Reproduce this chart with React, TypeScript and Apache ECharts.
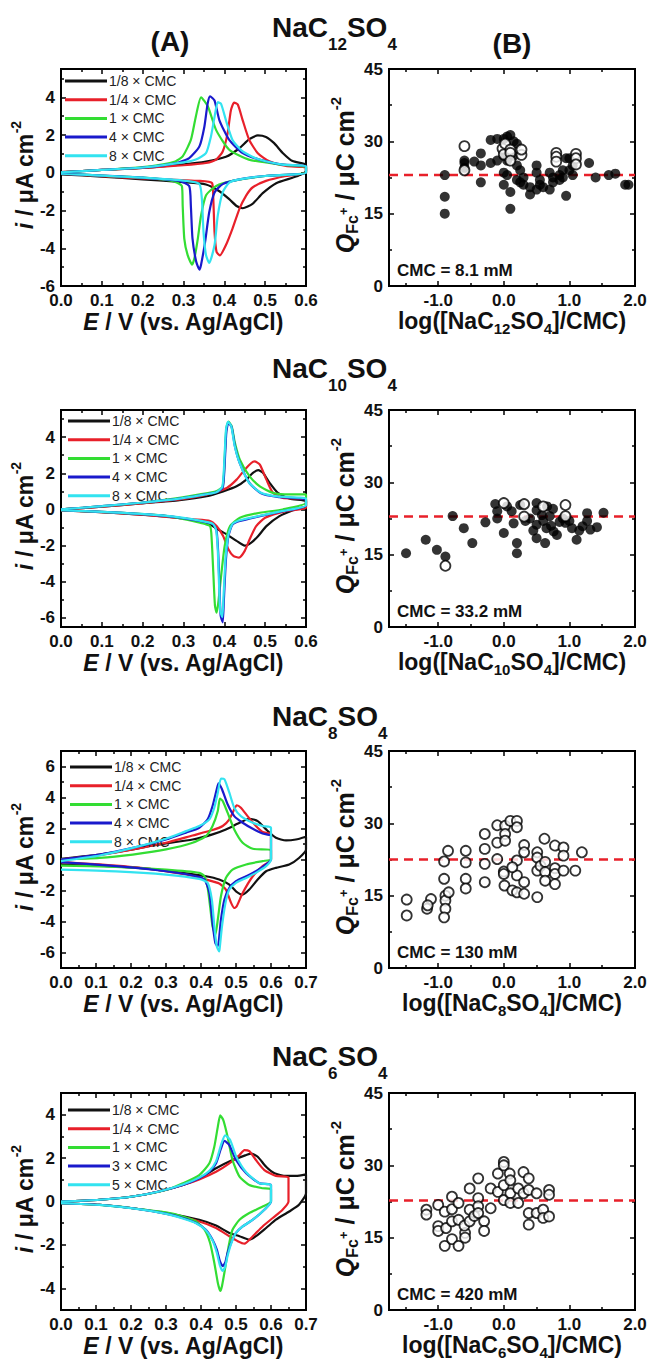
import React, { useEffect, useRef } from 'react';
import * as echarts from 'echarts';

type Pt = [number, number];

const FONT = '"Liberation Sans", Arial, Helvetica, sans-serif';

// ---------- (A) cyclic voltammograms: [E / V, i / µA cm^-2], anodic sweep then cathodic sweep ----------

// NaC12SO4
const cv12_eighth: Pt[] = [
  [0, 0.03], [0.1, 0.15], [0.2, 0.26], [0.3, 0.45], [0.355, 0.6], [0.404, 0.85], [0.437, 1.3], [0.461, 1.78], [0.482, 1.98], [0.502, 1.9], [0.522, 1.57], [0.543, 1.05], [0.567, 0.62], [0.6, 0.43],
  [0.6, 0.1], [0.585, -0.12], [0.567, -0.26], [0.527, -0.55], [0.494, -1.08], [0.469, -1.65], [0.445, -1.88], [0.43, -1.76], [0.412, -1.4], [0.388, -0.98], [0.355, -0.62], [0.3, -0.5], [0.2, -0.35], [0.1, -0.2], [0, -0.08],
];
const cv12_quarter: Pt[] = [
  [0, 0.03], [0.1, 0.15], [0.2, 0.26], [0.3, 0.4], [0.355, 0.52], [0.38, 0.7], [0.396, 1.13], [0.408, 2.09], [0.416, 3.3], [0.424, 3.72], [0.433, 3.62], [0.445, 2.78], [0.461, 1.74], [0.482, 1.04], [0.51, 0.61], [0.551, 0.36], [0.6, 0.27],
  [0.6, 0.0], [0.551, -0.17], [0.502, -0.43], [0.469, -0.78], [0.453, -1.22], [0.437, -1.91], [0.42, -2.96], [0.404, -3.83], [0.389, -4.38], [0.381, -4.2], [0.376, -3.13], [0.373, -1.39], [0.37, -0.55], [0.339, -0.43], [0.2, -0.3], [0.1, -0.18], [0, -0.05],
];
const cv12_one: Pt[] = [
  [0, 0.02], [0.1, 0.15], [0.2, 0.3], [0.25, 0.45], [0.28, 0.6], [0.298, 0.87], [0.318, 1.74], [0.33, 2.96], [0.343, 4.0], [0.36, 3.5], [0.38, 2.26], [0.412, 1.22], [0.46, 0.7], [0.54, 0.43], [0.6, 0.3],
  [0.6, 0], [0.5, -0.17], [0.42, -0.43], [0.38, -0.7], [0.355, -1.2], [0.343, -2.26], [0.335, -3.5], [0.327, -4.5], [0.321, -4.87], [0.31, -4.35], [0.302, -3.5], [0.298, -1.74], [0.296, -0.7], [0.273, -0.43], [0.2, -0.26], [0.1, -0.15], [0, -0.03],
];
const cv12_four: Pt[] = [
  [0, 0.02], [0.1, 0.15], [0.2, 0.28], [0.28, 0.5], [0.314, 0.78], [0.339, 1.4], [0.351, 2.43], [0.359, 3.65], [0.365, 4.05], [0.376, 3.83], [0.388, 2.78], [0.412, 1.74], [0.445, 1.04], [0.486, 0.7], [0.543, 0.43], [0.6, 0.35],
  [0.6, 0], [0.5, -0.17], [0.437, -0.35], [0.396, -0.6], [0.376, -1.04], [0.363, -2.09], [0.353, -3.65], [0.343, -4.87], [0.339, -5.13], [0.331, -4.7], [0.322, -3.48], [0.318, -1.74], [0.314, -0.7], [0.29, -0.43], [0.2, -0.26], [0.1, -0.15], [0, -0.05],
];
const cv12_eight: Pt[] = [
  [0, 0.02], [0.1, 0.15], [0.2, 0.28], [0.3, 0.55], [0.33, 0.7], [0.355, 1.04], [0.367, 1.9], [0.376, 2.96], [0.384, 3.74], [0.392, 3.65], [0.404, 2.78], [0.42, 1.74], [0.445, 1.13], [0.486, 0.7], [0.543, 0.43], [0.6, 0.35],
  [0.6, 0], [0.5, -0.17], [0.437, -0.35], [0.412, -0.52], [0.396, -1.04], [0.384, -2.26], [0.376, -3.83], [0.363, -4.78], [0.355, -4.35], [0.349, -3.13], [0.345, -1.39], [0.339, -0.6], [0.306, -0.43], [0.2, -0.26], [0.1, -0.15], [0, -0.05],
];

// NaC10SO4
const cv10_eighth: Pt[] = [
  [0, 0], [0.1, 0.15], [0.195, 0.33], [0.29, 0.51], [0.357, 0.73], [0.397, 1.0], [0.43, 1.28], [0.454, 1.65], [0.47, 2.02], [0.483, 2.17], [0.495, 2.02], [0.511, 1.47], [0.531, 0.92], [0.56, 0.59], [0.6, 0.46],
  [0.6, 0.18], [0.568, -0.04], [0.535, -0.37], [0.503, -0.92], [0.483, -1.47], [0.466, -1.83], [0.45, -2.0], [0.43, -1.74], [0.406, -1.38], [0.381, -1.06], [0.365, -0.83], [0.34, -0.64], [0.26, -0.4], [0.14, -0.2], [0, -0.05],
];
const cv10_quarter: Pt[] = [
  [0, 0], [0.1, 0.15], [0.195, 0.33], [0.29, 0.55], [0.34, 0.73], [0.373, 0.92], [0.406, 1.19], [0.43, 1.65], [0.45, 2.2], [0.466, 2.57], [0.474, 2.66], [0.487, 2.48], [0.503, 1.65], [0.519, 0.92], [0.543, 0.64], [0.6, 0.55],
  [0.6, 0.09], [0.55, -0.09], [0.5, -0.46], [0.478, -0.92], [0.462, -1.65], [0.45, -2.29], [0.436, -2.66], [0.422, -2.57], [0.41, -2.2], [0.397, -1.47], [0.381, -0.92], [0.365, -0.64], [0.324, -0.55], [0.22, -0.33], [0.1, -0.15], [0, -0.05],
];
const cv10_one: Pt[] = [
  [0, 0], [0.1, 0.18], [0.195, 0.37], [0.29, 0.64], [0.34, 0.83], [0.38, 1.0], [0.396, 1.28], [0.401, 2.94], [0.405, 4.5], [0.41, 4.86], [0.418, 4.6], [0.426, 3.67], [0.438, 2.75], [0.462, 1.83], [0.487, 1.28], [0.519, 0.92], [0.56, 0.83], [0.6, 0.83],
  [0.6, 0.37], [0.543, 0], [0.487, -0.18], [0.438, -0.46], [0.414, -0.92], [0.401, -2.0], [0.393, -3.5], [0.385, -5.2], [0.381, -5.7], [0.377, -5.3], [0.373, -3.5], [0.369, -1.65], [0.365, -0.92], [0.34, -0.73], [0.26, -0.37], [0.14, -0.18], [0, -0.04],
];
const cv10_four: Pt[] = [
  [0, 0], [0.1, 0.18], [0.195, 0.37], [0.29, 0.6], [0.34, 0.78], [0.38, 0.95], [0.396, 1.2], [0.401, 2.6], [0.405, 4.3], [0.41, 4.8], [0.418, 4.55], [0.426, 3.5], [0.438, 2.55], [0.462, 1.45], [0.49, 0.9], [0.53, 0.7], [0.6, 0.55],
  [0.6, 0.2], [0.543, -0.1], [0.487, -0.37], [0.438, -0.64], [0.42, -0.83], [0.41, -1.47], [0.404, -2.75], [0.399, -4.95], [0.396, -6.24], [0.391, -5.87], [0.388, -4.22], [0.385, -2.39], [0.381, -1.19], [0.373, -0.83], [0.34, -0.64], [0.26, -0.37], [0.14, -0.18], [0, -0.04],
];
const cv10_eight: Pt[] = [
  [0, 0], [0.1, 0.18], [0.195, 0.37], [0.29, 0.6], [0.34, 0.78], [0.38, 0.95], [0.395, 1.25], [0.4, 2.7], [0.404, 4.4], [0.409, 4.85], [0.417, 4.6], [0.425, 3.55], [0.437, 2.6], [0.46, 1.5], [0.49, 0.92], [0.53, 0.72], [0.6, 0.6],
  [0.6, 0.22], [0.543, -0.08], [0.487, -0.35], [0.438, -0.6], [0.42, -0.8], [0.41, -1.4], [0.403, -2.7], [0.398, -4.8], [0.395, -5.96], [0.39, -5.6], [0.387, -4.1], [0.384, -2.3], [0.38, -1.15], [0.372, -0.8], [0.34, -0.62], [0.26, -0.36], [0.14, -0.18], [0, -0.04],
];

// NaC8SO4
const cv8_eighth: Pt[] = [
  [0, 0.05], [0.11, 0.32], [0.205, 0.65], [0.25, 0.86], [0.3, 1.04], [0.376, 1.29], [0.433, 1.62], [0.471, 1.94], [0.51, 2.37], [0.538, 2.63], [0.562, 2.48], [0.586, 1.94], [0.614, 1.4], [0.643, 1.23], [0.671, 1.29], [0.7, 1.47],
  [0.7, 0.65], [0.68, 0.1], [0.652, -0.32], [0.614, -0.54], [0.586, -0.76], [0.562, -1.29], [0.538, -1.94], [0.519, -2.27], [0.5, -2.05], [0.481, -1.62], [0.452, -1.29], [0.414, -1.08], [0.348, -0.86], [0.252, -0.6], [0.11, -0.39], [0, -0.32],
];
const cv8_quarter: Pt[] = [
  [0, 0], [0.11, 0.28], [0.205, 0.65], [0.3, 1.08], [0.376, 1.55], [0.433, 1.9], [0.462, 2.16], [0.481, 2.59], [0.495, 3.24], [0.502, 3.5], [0.514, 3.34], [0.533, 2.8], [0.557, 2.16], [0.576, 1.77], [0.6, 1.62],
  [0.6, 0], [0.576, -0.43], [0.548, -1.08], [0.519, -2.16], [0.502, -3.02], [0.495, -3.13], [0.486, -2.8], [0.471, -1.94], [0.452, -1.55], [0.414, -1.29], [0.357, -0.97], [0.252, -0.6], [0.11, -0.32], [0, -0.17],
];
const cv8_one: Pt[] = [
  [0, 0], [0.11, 0.1], [0.205, 0.32], [0.3, 0.65], [0.376, 1.08], [0.414, 1.51], [0.433, 2.16], [0.448, 3.13], [0.454, 3.93], [0.462, 3.78], [0.476, 3.02], [0.495, 1.94], [0.519, 1.08], [0.548, 0.69], [0.6, 0.6],
  [0.6, 0], [0.576, -0.1], [0.529, -0.32], [0.49, -0.65], [0.471, -1.19], [0.457, -2.37], [0.448, -3.88], [0.441, -4.85], [0.433, -4.31], [0.426, -3.02], [0.419, -1.83], [0.41, -1.08], [0.395, -0.86], [0.3, -0.65], [0.157, -0.47], [0, -0.39],
];
const cv8_four: Pt[] = [
  [0, 0], [0.11, 0.32], [0.205, 0.75], [0.3, 1.29], [0.357, 1.73], [0.395, 2.05], [0.419, 2.59], [0.433, 3.45], [0.445, 4.53], [0.45, 4.92], [0.46, 4.53], [0.476, 3.56], [0.495, 2.8], [0.519, 2.37], [0.548, 1.98], [0.576, 1.68], [0.6, 1.51],
  [0.6, 0], [0.586, -0.32], [0.557, -0.76], [0.529, -1.08], [0.5, -1.4], [0.481, -1.83], [0.467, -2.59], [0.457, -3.88], [0.448, -5.6], [0.441, -5.39], [0.433, -4.1], [0.424, -2.16], [0.41, -1.29], [0.386, -1.08], [0.3, -0.76], [0.157, -0.43], [0, -0.17],
];
const cv8_eight: Pt[] = [
  [0, -0.1], [0.11, 0.26], [0.205, 0.75], [0.3, 1.34], [0.357, 1.83], [0.395, 2.16], [0.424, 2.59], [0.438, 3.34], [0.448, 4.31], [0.457, 5.22], [0.467, 5.18], [0.481, 4.31], [0.495, 3.34], [0.514, 2.8], [0.548, 2.37], [0.576, 2.16], [0.6, 2.05],
  [0.6, 0], [0.586, -0.43], [0.557, -0.86], [0.529, -1.19], [0.5, -1.51], [0.481, -1.94], [0.47, -2.8], [0.46, -4.31], [0.454, -5.6], [0.452, -5.93], [0.445, -5.6], [0.438, -4.31], [0.431, -2.59], [0.419, -1.51], [0.395, -1.25], [0.3, -0.97], [0.157, -0.76], [0, -0.65],
];

// NaC6SO4
const cv6_eighth: Pt[] = [
  [0, 0], [0.11, 0.08], [0.205, 0.23], [0.28, 0.46], [0.348, 0.76], [0.395, 1.07], [0.443, 1.53], [0.49, 1.91], [0.529, 2.14], [0.543, 2.21], [0.562, 2.06], [0.586, 1.6], [0.61, 1.3], [0.643, 1.18], [0.671, 1.18], [0.7, 1.25],
  [0.7, 0.38], [0.68, -0.15], [0.652, -0.46], [0.614, -0.84], [0.586, -1.22], [0.557, -1.6], [0.538, -1.76], [0.51, -1.6], [0.481, -1.45], [0.443, -1.11], [0.395, -0.84], [0.3, -0.53], [0.205, -0.31], [0.11, -0.15], [0, -0.08],
];
const cv6_quarter: Pt[] = [
  [0, 0], [0.11, 0.08], [0.205, 0.23], [0.28, 0.46], [0.348, 0.76], [0.395, 1.02], [0.443, 1.37], [0.481, 1.76], [0.51, 2.14], [0.524, 2.37], [0.538, 2.32], [0.557, 1.91], [0.581, 1.45], [0.614, 1.18], [0.65, 1.11],
  [0.65, 0], [0.633, -0.38], [0.605, -0.76], [0.576, -1.15], [0.548, -1.6], [0.524, -1.94], [0.505, -1.83], [0.481, -1.6], [0.443, -1.22], [0.395, -0.92], [0.3, -0.56], [0.205, -0.31], [0.11, -0.15], [0, -0.08],
];
const cv6_one: Pt[] = [
  [0, 0], [0.11, 0.08], [0.205, 0.23], [0.3, 0.53], [0.348, 0.84], [0.395, 1.22], [0.424, 1.76], [0.438, 2.52], [0.448, 3.44], [0.455, 3.97], [0.464, 3.74], [0.476, 2.98], [0.49, 1.91], [0.51, 1.15], [0.538, 0.76], [0.576, 0.61], [0.6, 0.56],
  [0.6, 0], [0.576, -0.23], [0.538, -0.53], [0.51, -0.84], [0.49, -1.3], [0.479, -2.06], [0.47, -2.98], [0.46, -3.89], [0.455, -4.12], [0.448, -3.74], [0.438, -2.82], [0.426, -1.91], [0.41, -1.3], [0.386, -0.92], [0.348, -0.69], [0.3, -0.5], [0.205, -0.31], [0.11, -0.16], [0, -0.08],
];
const cv6_three: Pt[] = [
  [0, 0], [0.11, 0.08], [0.205, 0.23], [0.28, 0.46], [0.348, 0.76], [0.395, 1.07], [0.424, 1.37], [0.443, 1.76], [0.457, 2.44], [0.467, 2.79], [0.481, 2.6], [0.5, 1.91], [0.529, 1.3], [0.567, 0.84], [0.6, 0.76],
  [0.6, 0], [0.581, -0.38], [0.548, -0.84], [0.519, -1.15], [0.5, -1.45], [0.486, -1.91], [0.476, -2.37], [0.469, -2.82], [0.462, -2.98], [0.454, -2.75], [0.445, -2.21], [0.433, -1.76], [0.414, -1.3], [0.386, -0.99], [0.348, -0.76], [0.3, -0.56], [0.205, -0.31], [0.11, -0.15], [0, -0.08],
];
const cv6_five: Pt[] = [
  [0, 0], [0.11, 0.08], [0.205, 0.23], [0.28, 0.46], [0.348, 0.78], [0.395, 1.1], [0.424, 1.42], [0.443, 1.85], [0.457, 2.6], [0.469, 3.05], [0.483, 2.85], [0.5, 2.1], [0.529, 1.35], [0.567, 0.84], [0.6, 0.76],
  [0.6, 0], [0.581, -0.38], [0.548, -0.84], [0.519, -1.15], [0.5, -1.45], [0.486, -1.95], [0.476, -2.5], [0.469, -3.0], [0.462, -3.2], [0.454, -2.95], [0.445, -2.35], [0.433, -1.8], [0.414, -1.32], [0.386, -1.0], [0.348, -0.78], [0.3, -0.57], [0.205, -0.32], [0.11, -0.16], [0, -0.08],
];

// ---------- (B) surface charge: [log(c/CMC), Q / µC cm^-2] ----------
const q12_filled: Pt[] = [
  [-0.9, 23], [-0.9, 18.5], [-0.9, 15], [-0.6, 25.5], [-0.6, 26], [-0.6, 24.5], [-0.45, 25.8], [-0.35, 25], [-0.35, 27.5], [-0.35, 21.5],
  [-0.2, 30.3], [-0.2, 25.5], [-0.1, 30.5], [-0.1, 26], [0, 30.5], [0, 27], [0, 23.5], [0, 21], [0.05, 31], [0.05, 26], [0.05, 23],
  [0.1, 31.3], [0.1, 19.5], [0.1, 16], [0.15, 30], [0.15, 27], [0.2, 29.5], [0.2, 25], [0.2, 22], [0.25, 24], [0.25, 21.5], [0.3, 22.5], [0.3, 21],
  [0.4, 19], [0.4, 20.5], [0.5, 25], [0.5, 23.5], [0.5, 20], [0.55, 21], [0.55, 22], [0.6, 20.5], [0.7, 23.5], [0.7, 20], [0.75, 22.5], [0.75, 21.5],
  [0.85, 22], [0.85, 23], [0.9, 24], [0.9, 22.5], [0.95, 26.5], [0.95, 18.7], [1.0, 26.5], [1.0, 24], [1.05, 25], [1.05, 23],
  [1.3, 25.5], [1.4, 22.5], [1.6, 23], [1.7, 23.3], [1.85, 21], [1.9, 21],
];
const q12_open: Pt[] = [
  [-0.6, 29], [-0.6, 24], [-0.02, 28.5], [0, 27.3], [0.02, 29.5], [0.1, 28.3], [0.1, 27.6], [0.1, 26], [0.27, 27.2], [0.27, 28.3],
  [0.8, 27.6], [0.8, 26.8], [0.8, 25.8], [1.1, 27.4], [1.1, 26.5], [1.1, 25.2],
];
const q10_filled: Pt[] = [
  [-1.49, 15.3], [-1.19, 18.1], [-1.02, 16.0], [-0.89, 14.6], [-0.78, 23.0], [-0.61, 20.5], [-0.48, 17.4], [-0.28, 21.7], [-0.13, 25.5], [-0.1, 24], [-0.1, 22.5],
  [0.0, 19.5], [0.05, 25], [0.12, 24], [0.15, 21.5], [0.2, 17.4], [0.2, 15.3], [0.25, 25.3], [0.33, 22], [0.4, 22.5], [0.45, 20],
  [0.5, 25.7], [0.5, 24.2], [0.5, 21.2], [0.5, 18.4], [0.58, 23.2], [0.6, 22], [0.63, 17.4], [0.65, 20.5], [0.66, 25], [0.7, 23], [0.72, 21],
  [0.75, 24.5], [0.76, 19.8], [0.81, 19.1], [0.85, 21.8], [0.9, 22.5], [0.94, 21.6], [1.0, 22], [1.04, 20.5], [1.11, 18.1], [1.15, 20],
  [1.2, 20.9], [1.27, 23.6], [1.27, 22], [1.32, 20.2], [1.42, 20.7], [1.52, 23.7],
];
const q10_open: Pt[] = [[-0.89, 12.7], [0.0, 25.7], [0.31, 25.5], [0.31, 22.9], [0.6, 25], [0.94, 25.3], [0.94, 23]];
const q8_open: Pt[] = [
  [-1.48, 14.2], [-1.48, 10.9], [-1.17, 12.3], [-1.11, 14.3], [-1.16, 13.0], [-0.85, 24.3], [-0.91, 22.1], [-0.91, 18.5], [-0.89, 15.0], [-0.89, 14.0],
  [-0.89, 12.3], [-0.91, 10.5], [-0.84, 15.7], [-0.58, 24.3], [-0.58, 21.9], [-0.58, 18.5], [-0.58, 16.5], [-0.29, 27.8], [-0.29, 24.7], [-0.29, 21.6], [-0.29, 17.8],
  [-0.1, 29.6], [-0.1, 26], [-0.1, 22.6], [0.02, 29.5], [0.02, 27.8], [0.02, 26.4], [0.0, 20.0], [0.0, 19.5], [0.01, 17.1], [0.1, 30.5], [0.2, 30.5], [0.2, 29.2],
  [0.13, 16.1], [0.2, 15.7], [0.2, 19.2], [0.2, 22.3], [0.13, 20.9], [0.31, 25.5], [0.31, 24.0], [0.31, 17.8], [0.31, 15.4], [0.51, 24.0], [0.51, 22.9], [0.51, 20.2], [0.51, 14.7],
  [0.56, 21.2], [0.62, 26.8], [0.63, 22.0], [0.63, 19.9], [0.63, 18.1], [0.78, 25.4], [0.78, 20.7], [0.78, 19.5], [0.78, 17.4], [0.91, 25.0], [0.91, 23.3], [0.91, 20.2],
  [1.09, 20.2], [1.19, 24.0],
];
const q6_open: Pt[] = [
  [-1.18, 20.8], [-1.18, 19.8], [-1.0, 21.8], [-1.0, 17.4], [-1.0, 16.4], [-0.9, 20.4], [-0.9, 13.3], [-0.88, 17.0], [-0.79, 23.5], [-0.79, 20.9], [-0.79, 18.4], [-0.79, 14.7],
  [-0.69, 22.2], [-0.69, 18.7], [-0.69, 13.3], [-0.59, 16.0], [-0.59, 15.0], [-0.6, 17.5], [-0.52, 25.2], [-0.52, 20.8], [-0.52, 18.4], [-0.45, 19.5],
  [-0.39, 27.3], [-0.39, 23.2], [-0.39, 21.5], [-0.39, 20.1], [-0.3, 18.4], [-0.3, 16.4], [-0.2, 25.2], [-0.2, 21.1], [-0.09, 28.3], [-0.09, 24.5],
  [0.0, 30.7], [0.0, 30.0], [0.0, 25.9], [0.0, 22.8], [0.09, 28.3], [0.1, 26.9], [0.1, 24.2], [0.1, 22.2], [0.22, 25.2], [0.22, 22.2], [0.3, 28.6], [0.3, 24.2],
  [0.38, 27.3], [0.38, 24.9], [0.38, 20.1], [0.38, 17.7], [0.5, 24.2], [0.5, 20.1], [0.6, 20.8], [0.6, 19.1], [0.69, 24.9], [0.69, 23.9], [0.69, 19.4],
];

// mean charge (dashed line) per surfactant
const meanCharge = [23.0, 22.9, 22.5, 22.7];

const chainLengths = ['12', '10', '8', '6'];
const cmcTexts = ['CMC = 8.1 mM', 'CMC = 33.2 mM', 'CMC = 130 mM', 'CMC = 420 mM'];
const sweepNames = ['1/8 × CMC', '1/4 × CMC', '1 × CMC', '4 × CMC', '8 × CMC'];
const sweepNamesC6 = ['1/8 × CMC', '1/4 × CMC', '1 × CMC', '3 × CMC', '5 × CMC'];
const cvLoops: Pt[][][] = [
  [cv12_eighth, cv12_quarter, cv12_one, cv12_four, cv12_eight],
  [cv10_eighth, cv10_quarter, cv10_one, cv10_four, cv10_eight],
  [cv8_eighth, cv8_quarter, cv8_one, cv8_four, cv8_eight],
  [cv6_eighth, cv6_quarter, cv6_one, cv6_three, cv6_five],
];
const chargeFilled: Pt[][] = [q12_filled, q10_filled, [], []];
const chargeOpen: Pt[][] = [q12_open, q10_open, q8_open, q6_open];

// axis extents and tick labels
const cvXMax = [0.6, 0.6, 0.7, 0.7];
const cvYRange: [number, number][] = [[-6, 5.5], [-6.5, 5.5], [-7, 7], [-5, 5]];
const cvYLabels = [[-6, -4, -2, 0, 2, 4], [-6, -4, -2, 0, 2, 4], [-6, -4, -2, 0, 2, 4, 6], [-4, -2, 0, 2, 4]];
const qXRange: [number, number] = [-1.75, 2.0];
const qXLabels = [-1, 0, 1, 2];
const qYRange: [number, number] = [0, 45];
const qYLabels = [0, 15, 30, 45];

const cvColors = ['#111111', '#e8202a', '#33dd33', '#1a1acc', '#33e3f0'];

// layout (px)
const ROW_TOP = [69, 410, 751, 1093];
const PLOT_H = 217;
const A_LEFT = 61;
const A_W = 245;
const B_LEFT = 389;
const B_W = 246;
const TITLE_Y = [27, 368, 716, 1056];
const LEGEND_TOP = [74, 414, 760, 1103];
const LEGEND_LEFT = [65, 68, 70, 68];

const steps = (a: number, b: number, step: number) => {
  const out: number[] = [];
  for (let v = a; v <= b + 1e-9; v += step) out.push(Math.round(v * 1000) / 1000);
  return out;
};

function axisSet(grid: number, pos: [string, string], min: number, max: number, major: number[], minor: number[], labels: number[], fmt: (v: number) => string) {
  const out: any[] = [];
  pos.forEach((p, si) => {
    [major, minor].forEach((ticks, ti) => {
      out.push({
        type: 'value', gridIndex: grid, position: p, min, max,
        axisLine: { show: false, onZero: false },
        splitLine: { show: false },
        axisTick: { show: true, inside: true, length: ti === 0 ? 5 : 3, customValues: ticks, lineStyle: { color: '#000', width: 1.5 } },
        axisLabel: si === 0 && ti === 0
          ? { show: true, customValues: labels, formatter: (v: number) => fmt(v), margin: 6, fontSize: 17, fontWeight: 'bold', color: '#111', fontFamily: FONT }
          : { show: false },
      });
    });
  });
  return out;
}

function buildOption() {
  const grid: any[] = [];
  const xAxis: any[] = [];
  const yAxis: any[] = [];
  const series: any[] = [];
  const legend: any[] = [];
  const graphic: any[] = [];

  const txtBase = { fontFamily: FONT, fontWeight: 'bold', fill: '#111' };
  const titleRich = {
    m: { ...txtBase, fontSize: 28, lineHeight: 34 },
    s: { ...txtBase, fontSize: 17, lineHeight: 34, padding: [34, 0, 0, 0] },
  };
  const nameRich = {
    n: { ...txtBase, fontSize: 23, lineHeight: 28 },
    i: { ...txtBase, fontSize: 23, lineHeight: 28, fontStyle: 'italic' },
    s: { ...txtBase, fontSize: 15, lineHeight: 28, padding: [14, 0, 0, 0] },
    p: { ...txtBase, fontSize: 14, lineHeight: 28, padding: [0, 0, 18, 0] },
  };
  const qRich = {
    n: { ...txtBase, fontSize: 25, lineHeight: 30 },
    i: { ...txtBase, fontSize: 25, lineHeight: 30, fontStyle: 'italic' },
    f: { ...txtBase, fontSize: 16, lineHeight: 30, padding: [14, 0, 0, 0] },
    pl: { ...txtBase, fontSize: 13, lineHeight: 30, padding: [0, 0, 4, 0] },
    p: { ...txtBase, fontSize: 15, lineHeight: 30, padding: [0, 0, 20, 0] },
  };

  graphic.push({ type: 'text', x: 170, y: 41, style: { text: '(A)', fontSize: 28, fontWeight: 'bold', fontFamily: FONT, fill: '#111', align: 'center', verticalAlign: 'middle' } });
  graphic.push({ type: 'text', x: 512, y: 43, style: { text: '(B)', fontSize: 28, fontWeight: 'bold', fontFamily: FONT, fill: '#111', align: 'center', verticalAlign: 'middle' } });

  for (let r = 0; r < 4; r++) {
    const top = ROW_TOP[r];
    const bottom = top + PLOT_H;
    const gA = r * 2;
    const gB = r * 2 + 1;
    grid.push({ left: A_LEFT, top, width: A_W, height: PLOT_H, show: true, borderColor: '#000', borderWidth: 2, backgroundColor: 'transparent' });
    grid.push({ left: B_LEFT, top, width: B_W, height: PLOT_H, show: true, borderColor: '#000', borderWidth: 2, backgroundColor: 'transparent' });

    // (A) axes
    const xm = cvXMax[r];
    xAxis.push(...axisSet(gA, ['bottom', 'top'], 0, xm, steps(0, xm, 0.1), steps(0.05, xm, 0.1), steps(0, xm, 0.1), (v) => v.toFixed(1)));
    const [ymin, ymax] = cvYRange[r];
    const yMajor = steps(Math.ceil(ymin / 2) * 2, ymax, 2);
    const yMinor = steps(Math.ceil((ymin - 1) / 2) * 2 + 1, ymax, 2).filter((v) => v >= ymin);
    yAxis.push(...axisSet(gA, ['left', 'right'], ymin, ymax, yMajor, yMinor, cvYLabels[r], (v) => String(v)));

    // (B) axes
    xAxis.push(...axisSet(gB, ['bottom', 'top'], qXRange[0], qXRange[1], steps(-1, 2, 1), steps(-1.5, 1.5, 1), qXLabels, (v) => v.toFixed(1)));
    yAxis.push(...axisSet(gB, ['left', 'right'], qYRange[0], qYRange[1], steps(0, 45, 15), steps(7.5, 45, 15), qYLabels, (v) => String(v)));

    const names = r === 3 ? sweepNamesC6 : sweepNames;
    cvLoops[r].forEach((loop, k) => {
      series.push({
        type: 'line', name: names[k], xAxisIndex: gA * 4, yAxisIndex: gA * 4, data: loop,
        symbol: 'none', showSymbol: false, smooth: 0.2, z: 2 + k,
        lineStyle: { color: cvColors[k], width: 2.2 }, itemStyle: { color: cvColors[k] },
      });
    });
    legend.push({
      data: names, orient: 'vertical', left: LEGEND_LEFT[r], top: LEGEND_TOP[r], padding: 0,
      icon: 'rect', itemWidth: 42, itemHeight: 3, itemGap: 4.7, selectedMode: false,
      textStyle: { fontSize: 14, color: '#222', fontFamily: FONT, padding: [0, 0, 0, -3] },
    });

    // (B) series
    series.push({
      type: 'line', name: 'mean', xAxisIndex: gB * 4, yAxisIndex: gB * 4,
      data: [[qXRange[0], meanCharge[r]], [qXRange[1], meanCharge[r]]], symbol: 'none', z: 1,
      lineStyle: { color: '#e8202a', width: 2.5, type: [9, 6] },
    });
    if (chargeFilled[r].length) {
      series.push({
        type: 'scatter', name: 'filled', xAxisIndex: gB * 4, yAxisIndex: gB * 4, data: chargeFilled[r],
        symbol: 'circle', symbolSize: 10, z: 3, itemStyle: { color: '#000' },
      });
    }
    series.push({
      type: 'scatter', name: 'open', xAxisIndex: gB * 4, yAxisIndex: gB * 4, data: chargeOpen[r],
      symbol: 'circle', symbolSize: 10, z: 4, itemStyle: { color: '#fff', borderColor: '#000', borderWidth: 1.8 },
    });

    // titles and axis names
    const n = chainLengths[r];
    graphic.push({ type: 'text', x: 272, y: TITLE_Y[r], style: { text: `{m|NaC}{s|${n}}{m|SO}{s|4}`, rich: titleRich, align: 'left', verticalAlign: 'middle' } });
    graphic.push({ type: 'text', x: A_LEFT + A_W / 2, y: bottom + 36, style: { text: '{i|E}{n| / V (vs. Ag/AgCl)}', rich: nameRich, align: 'center', verticalAlign: 'middle' } });
    graphic.push({ type: 'text', x: B_LEFT + B_W / 2, y: bottom + 35, style: { text: `{n|log([NaC}{s|${n}}{n|SO}{s|4}{n|]/CMC)}`, rich: nameRich, align: 'center', verticalAlign: 'middle' } });
    graphic.push({ type: 'text', x: 25, y: top + 106, rotation: Math.PI / 2, style: { text: '{i|i}{n| / μA cm}{p|-2}', rich: nameRich, align: 'center', verticalAlign: 'middle' } });
    graphic.push({ type: 'text', x: 345, y: top + 106, rotation: Math.PI / 2, style: { text: '{i|Q}{f|Fc}{pl|+}{n| / μC cm}{p|-2}', rich: qRich, align: 'center', verticalAlign: 'middle' } });
    graphic.push({ type: 'text', x: 397, y: bottom - 16, style: { text: cmcTexts[r], fontSize: 17, fontWeight: 'bold', fontFamily: FONT, fill: '#111', align: 'left', verticalAlign: 'middle' } });
  }

  return { animation: false, backgroundColor: '#fff', grid, xAxis, yAxis, series, legend, graphic };
}

export default function App() {
  const ref = useRef<HTMLDivElement>(null);
  useEffect(() => {
    if (!ref.current) return;
    const chart = echarts.init(ref.current, null, { renderer: 'svg' });
    chart.setOption(buildOption() as any);
    return () => chart.dispose();
  }, []);
  return <div ref={ref} style={{ position: 'absolute', left: 0, top: 0, width: 650, height: 1361, background: '#fff' }} />;
}
